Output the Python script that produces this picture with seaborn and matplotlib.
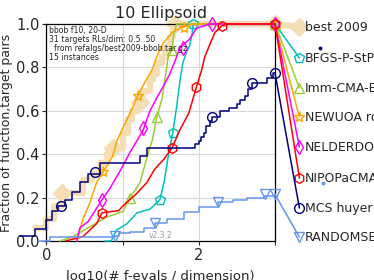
import numpy as np
import pandas as pd
import matplotlib
matplotlib.use("Agg")
import matplotlib.pyplot as plt
import seaborn as sns

# ---- data (x = log10(#f-evals/dim), y = fraction) ----
names = ["best 2009", "BFGS-P-StPt", "Imm-CMA-ES", "NEWUOA ros",
         "NELDERDOERR", "NIPOPaCMA", "MCS huyer", "RANDOMSEARCH"]
colors = ["wheat", "#00C0C0", "#9ACD32", "#FFA500",
          "#FF00FF", "#FF0000", "#000080", "#6495ED"]
markers = ["D", "p", "^", "*", "d", "h", "o", "v"]
label_y = [0.986, 0.843, 0.705, 0.571, 0.433, 0.29, 0.152, 0.018]

best_x = [-0.15, 0.0, 0.1, 0.2, 0.48, 0.6, 0.7, 0.8, 0.88, 1.0, 1.07, 1.13, 1.2,
          1.27, 1.36, 1.4, 1.45, 1.52, 1.56, 1.62, 1.66, 1.69, 3.0]
best_y = [0.06, 0.10, 0.16, 0.22, 0.28, 0.31, 0.36, 0.40, 0.43, 0.50, 0.56, 0.60,
          0.64, 0.69, 0.74, 0.77, 0.82, 0.85, 0.89, 0.94, 0.98, 1.0, 1.0]
best_mx = [0.2, 0.88, 1.23, 1.69]
best_my = [0.22, 0.43, 0.64, 1.0]

bfgs_x = [0.77, 0.85, 0.88, 0.92, 1.06, 1.19, 1.36, 1.49, 1.55, 1.59, 1.62, 1.66,
          1.71, 1.75, 1.79, 1.84, 1.88, 1.91, 1.93, 3.0]
bfgs_y = [0.0, 0.0, 0.02, 0.05, 0.08, 0.13, 0.147, 0.19, 0.28, 0.37, 0.43, 0.50,
          0.62, 0.73, 0.82, 0.87, 0.90, 0.95, 1.0, 1.0]
bfgs_mx = [1.49, 1.66, 1.92]
bfgs_my = [0.19, 0.50, 1.0]

imm_x = [0.18, 0.35, 0.57, 0.79, 1.0, 1.1, 1.23, 1.3, 1.39, 1.45, 1.52, 1.56,
         1.6, 1.65, 1.67, 1.71, 3.0]
imm_y = [0.0, 0.02, 0.065, 0.11, 0.135, 0.20, 0.27, 0.36, 0.465, 0.57, 0.66,
         0.755, 0.85, 0.88, 0.95, 1.0, 1.0]
imm_mx = [1.1, 1.45, 1.65]
imm_my = [0.20, 0.57, 0.88]

newuoa_x = [0.40, 0.44, 0.48, 0.57, 0.66, 0.75, 0.87, 0.93, 1.01, 1.10, 1.20,
            1.29, 1.39, 1.45, 1.53, 1.65, 1.75, 1.92, 3.0]
newuoa_y = [0.0, 0.05, 0.10, 0.175, 0.27, 0.32, 0.39, 0.465, 0.525, 0.59, 0.67,
            0.73, 0.79, 0.85, 0.91, 0.96, 0.98, 1.0, 1.0]
newuoa_mx = [0.75, 1.2, 1.8]
newuoa_my = [0.32, 0.67, 0.98]

nelder_x = [0.40, 0.44, 0.55, 0.73, 0.83, 0.98, 1.1, 1.27, 1.36, 1.45, 1.53,
            1.62, 1.69, 1.75, 1.88, 1.97, 2.14, 3.0]
nelder_y = [0.0, 0.06, 0.09, 0.19, 0.24, 0.33, 0.41, 0.51, 0.60, 0.66, 0.71,
            0.77, 0.83, 0.89, 0.93, 0.98, 1.0, 1.0]
nelder_mx = [0.73, 1.27, 1.79, 2.17]
nelder_my = [0.19, 0.52, 0.89, 1.0]

nipop_x = [0.25, 0.48, 0.66, 0.73, 0.95, 1.0, 1.19, 1.32, 1.42, 1.55, 1.65, 1.75,
           1.87, 1.97, 2.04, 2.08, 2.15, 2.21, 2.3, 2.37, 3.0]
nipop_y = [0.0, 0.02, 0.08, 0.13, 0.14, 0.16, 0.22, 0.27, 0.33, 0.38, 0.43, 0.51,
           0.59, 0.71, 0.79, 0.85, 0.91, 0.96, 0.99, 1.0, 1.0]
nipop_mx = [0.73, 1.65, 1.97, 2.3]
nipop_my = [0.13, 0.43, 0.71, 0.99]

mcs_x = [-0.34, -0.15, 0.0, 0.08, 0.155, 0.245, 0.336, 0.44, 0.55, 0.70, 1.23,
         1.32, 1.95, 2.0, 2.03, 2.07, 2.1, 2.15, 2.18, 2.28, 2.4, 2.5, 2.54, 2.6,
         2.64, 2.70, 2.9, 2.98, 3.0]
mcs_y = [0.023, 0.055, 0.097, 0.138, 0.16, 0.19, 0.226, 0.27, 0.31, 0.36, 0.39,
         0.43, 0.445, 0.46, 0.48, 0.50, 0.53, 0.555, 0.57, 0.60, 0.615, 0.63,
         0.65, 0.67, 0.70, 0.73, 0.75, 0.774, 0.774]
mcs_mx = [0.19, 0.64, 2.18, 2.70]
mcs_my = [0.16, 0.32, 0.57, 0.73]

rand_x = [-0.1, 0.05, 0.9, 0.95, 1.1, 1.28, 1.42, 1.58, 1.8, 2.0, 2.25, 2.45,
          2.63, 2.85, 3.0]
rand_y = [0.0, 0.02, 0.023, 0.035, 0.04, 0.06, 0.083, 0.10, 0.135, 0.155, 0.18,
          0.19, 0.20, 0.207, 0.215]
rand_mx = [0.9, 1.42, 2.25, 2.87]
rand_my = [0.023, 0.083, 0.18, 0.215]

curves_x = [best_x, bfgs_x, imm_x, newuoa_x, nelder_x, nipop_x, mcs_x, rand_x]
curves_y = [best_y, bfgs_y, imm_y, newuoa_y, nelder_y, nipop_y, mcs_y, rand_y]
marks_x = [best_mx, bfgs_mx, imm_mx, newuoa_mx, nelder_mx, nipop_mx, mcs_mx, rand_mx]
marks_y = [best_my, bfgs_my, imm_my, newuoa_my, nelder_my, nipop_my, mcs_my, rand_my]
steps = [True, False, False, False, False, False, True, True]

sns.set_style("white")
plt.rcParams["font.family"] = ["DejaVu Sans"]

fig = plt.figure(figsize=(3.74, 2.8), dpi=100)
ax = fig.add_axes([46.3 / 374, 39 / 280, 228.7 / 374, 217 / 280])

x_end = 3.0
x_lab = 3.32
for i in range(len(names)):
    df = pd.DataFrame({"x": curves_x[i], "y": curves_y[i]})
    is_best = i == 0
    lw = 4.5 if is_best else 1.1
    kw = dict(drawstyle="steps-post") if steps[i] else {}
    sns.lineplot(data=df, x="x", y="y", ax=ax, color=colors[i], lw=lw,
                 estimator=None, sort=False, clip_on=False,
                 zorder=1 if is_best else 3 + i, **kw)
    # sparse markers along the curve
    mfc = colors[i] if is_best else "none"
    ms = 9 if is_best else (8 if markers[i] == "*" else 7)
    ax.plot(marks_x[i] + [x_end], marks_y[i] + [curves_y[i][-1]], ls="none",
            marker=markers[i], ms=ms, mfc=mfc, mec=colors[i], mew=1.0,
            clip_on=False, zorder=1 if is_best else 3 + i)
    # connector to the label at the right of the axes
    ax.plot([x_end, x_lab], [curves_y[i][-1], label_y[i]], color=colors[i],
            lw=lw, clip_on=False, zorder=1 if is_best else 3 + i)
    ax.plot([x_lab], [label_y[i]], ls="none", marker=markers[i], ms=ms,
            mfc=mfc, mec=colors[i], mew=1.0, clip_on=False, zorder=3 + i)
    ax.text(3.39, label_y[i], names[i], fontsize=9, va="center", ha="left",
            clip_on=False)

# small stray dots seen beside the labels
ax.plot([3.59], [0.89], ls="none", marker="o", ms=1.8, color="#000080", clip_on=False)
ax.plot([3.63], [0.267], ls="none", marker="o", ms=1.8, color="#6495ED", clip_on=False)

ax.set_xlim(0, 3.0)
ax.set_ylim(0, 1.0)
ax.set_xticks([0, 1, 2, 3])
ax.set_xticklabels(["0", "", "2", ""])
ax.set_yticks([0.0, 0.2, 0.4, 0.6, 0.8, 1.0])
ax.set_yticklabels(["0.0", "0.2", "0.4", "0.6", "0.8", "1.0"])
ax.tick_params(axis="both", labelsize=10.5, direction="out", length=3,
               width=0.8, pad=2, bottom=True, left=True)
ax.grid(True, color="#d8d8d8", lw=0.8)
ax.set_axisbelow(True)
for s in ax.spines.values():
    s.set_color("black")
    s.set_linewidth(0.9)

ax.set_title("10 Ellipsoid", fontsize=11.5, pad=4)
ax.set_xlabel("log10(# f-evals / dimension)", fontsize=9.5, labelpad=5)
ax.set_ylabel("Fraction of function,target pairs", fontsize=9, labelpad=2)

ax.text(0.01, 0.99, "bbob f10, 20-D\n31 targets RLs/dim: 0.5..50\n"
        "  from refalgs/best2009-bbob.tar.gz\n15 instances",
        transform=ax.transAxes, fontsize=5.6, va="top", ha="left",
        linespacing=1.0, zorder=20)
ax.text(1.34, 0.025, "v2.3.2", fontsize=5.5, color="#999999", va="center",
        ha="left", zorder=20)

fig.savefig("out.png", dpi=100)
